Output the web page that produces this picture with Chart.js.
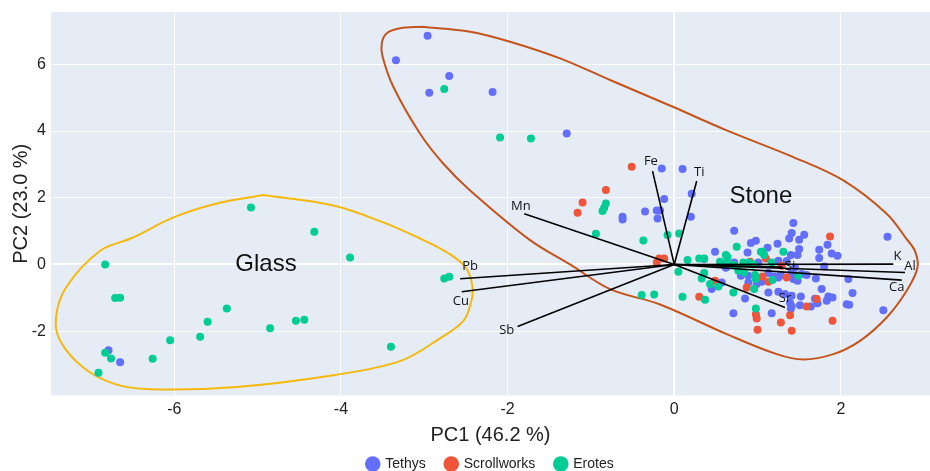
<!DOCTYPE html>
<html>
<head>
<meta charset="utf-8">
<script src="https://cdn.jsdelivr.net/npm/chart.js@4.4.0/dist/chart.umd.min.js"></script>
<style>
  html, body { margin: 0; padding: 0; background: #fff; }
  #wrap { width: 930px; height: 471px; position: relative; }
</style>
</head>
<body>
<div id="wrap"><canvas id="pcaChart"></canvas></div>
<script>
// PCA biplot: scores by group, loadings as vectors from the origin
const X_TICKS = [-6, -4, -2, 0, 2];
const Y_TICKS = [-2, 0, 2, 4, 6];
const X_TITLE = 'PC1 (46.2 %)';
const Y_TITLE = 'PC2 (23.0 %)';

const seriesNames = ['Tethys', 'Scrollworks', 'Erotes'];

const tethys = [
  [-2.96, 6.86], [-3.34, 6.12], [-2.70, 5.65], [-2.94, 5.15], [-2.18, 5.17], [-1.29, 3.93],
  [-0.15, 2.88], [0.10, 2.86], [0.21, 2.12], [-0.12, 1.96],
  [-0.62, 1.43], [-0.62, 1.35], [-0.35, 1.59], [-0.21, 1.62], [-0.17, 1.62], [-0.20, 1.38], [0.20, 1.43],
  [-6.79, -2.57], [-6.65, -2.93],
  [0.72, 1.01], [1.43, 1.24], [1.41, 0.94], [1.56, 0.89], [1.38, 0.78], [1.50, 0.74], [2.56, 0.83],
  [0.92, 0.64], [0.98, 0.71], [1.24, 0.62], [0.88, 0.36], [1.40, 0.28], [1.50, 0.46], [1.48, 0.28],
  [0.49, 0.38], [0.36, 0.16], [0.72, 0.06], [1.01, 0.06], [1.25, 0.11],
  [1.84, 0.59], [1.74, 0.44], [1.89, 0.33], [1.96, 0.26], [1.74, 0.19], [1.80, -0.06],
  [0.80, -0.34], [0.89, -0.34], [1.13, -0.26], [1.20, -0.36], [1.28, -0.32], [1.45, -0.34], [1.53, -0.29], [1.59, -0.32],
  [1.70, -0.42], [2.09, -0.44], [0.45, -0.74], [0.57, -0.54],
  [0.89, -0.54], [0.99, -0.59], [1.05, -0.52], [1.25, -0.39], [1.43, -0.44], [1.48, -0.49],
  [1.13, -0.84], [1.25, -0.82], [1.33, -0.89], [1.41, -0.94], [1.52, -0.96], [0.85, -1.02],
  [1.51, -1.22], [1.41, -1.25], [0.71, -1.46], [1.17, -1.46], [1.69, -1.03],
  [1.77, -0.74], [2.14, -0.86], [1.85, -0.96], [1.90, -0.99], [1.83, -1.09], [1.72, -1.16], [1.64, -1.26],
  [2.07, -1.19], [2.10, -1.21], [2.51, -1.37], [1.39, -1.15], [1.40, -1.33],
  [1.12, 0.50], [1.45, -0.10], [1.41, -0.24], [1.35, 0.10], [0.62, -0.10]
];

const scrollworks = [
  [-0.51, 2.93], [-0.82, 2.23], [-1.10, 1.86], [-1.16, 1.55], [1.87, 0.84],
  [-0.18, 0.18], [-0.12, 0.18], [-0.21, 0.06],
  [1.10, 0.18], [0.91, 0.08], [1.29, -0.04], [1.06, -0.36], [1.35, -0.39],
  [0.49, -0.49], [0.30, -0.97], [1.13, -0.52], [0.87, -0.69],
  [1.59, -1.26], [0.98, -1.49], [0.99, -1.62], [1.39, -1.52], [1.28, -1.74], [1.00, -1.96], [1.41, -1.99],
  [1.71, -1.04], [1.90, -1.69]
];

const erotes = [
  [-6.83, 0.00], [-6.71, -1.01], [-6.65, -1.00], [-5.37, -1.32], [-5.60, -1.72], [-5.69, -2.17],
  [-6.05, -2.27], [-6.26, -2.83], [-6.83, -2.65], [-6.76, -2.82], [-6.91, -3.25],
  [-4.85, -1.91], [-4.54, -1.69], [-4.44, -1.66], [-3.89, 0.21], [-3.40, -2.47],
  [-2.76, -0.42], [-2.70, -0.37], [-5.08, 1.71], [-4.32, 0.98],
  [-2.76, 5.26], [-2.09, 3.81], [-1.72, 3.78],
  [-0.82, 1.83], [-0.84, 1.70], [-0.86, 1.60], [-0.94, 0.92], [-0.37, 0.72], [-0.08, 0.88], [0.06, 0.93],
  [0.75, 0.53], [1.04, 0.38], [1.08, 0.28], [1.31, 0.38], [0.64, 0.22], [0.83, 0.06], [0.90, 0.06], [1.17, 0.06],
  [0.97, -0.32], [0.30, 0.18], [0.36, 0.18], [0.55, 0.08], [0.62, 0.28], [0.16, 0.13], [0.05, -0.22],
  [0.36, -0.26], [0.33, -0.42], [0.43, -0.59], [0.53, -0.66], [-0.39, -0.92], [-0.24, -0.90],
  [0.10, -0.97], [0.37, -1.06], [0.98, -0.44], [0.96, -0.74], [1.18, -0.47], [0.98, -1.32], [0.71, -0.84],
  [1.49, -0.34], [0.63, 0.06], [0.71, -0.01], [0.95, 0.00], [0.77, -0.19], [0.84, -0.24], [1.06, 0.38]
];

// loading vectors (end points, origin is 0,0)
const loadingNames = ['Fe', 'Ti', 'Mn', 'Pb', 'Cu', 'Sb', 'Sr', 'Si', 'K', 'Al', 'Ca'];
const loadingX = [-0.26, 0.27, -1.80, -2.57, -2.55, -1.88, 1.33, 1.30, 2.63, 2.77, 2.73];
const loadingY = [2.80, 2.50, 1.52, -0.43, -0.82, -1.86, -1.29, -0.08, 0.01, -0.24, -0.47];

// group outlines
const groupNames = ['Glass', 'Stone'];
const glassOutline = [
  [-4.93, 2.08], [-4.09, 1.77], [-3.49, 1.26], [-3.01, 0.73], [-2.72, 0.35], [-2.50, -0.10],
  [-2.42, -0.69], [-2.44, -1.15], [-2.53, -1.69], [-2.80, -2.20], [-3.29, -2.90], [-4.09, -3.32],
  [-5.29, -3.68], [-6.29, -3.74], [-6.72, -3.58], [-7.09, -3.10], [-7.37, -2.29], [-7.42, -1.59],
  [-7.30, -0.69], [-6.89, 0.41], [-6.50, 0.80], [-6.01, 1.41], [-5.50, 1.82], [-4.93, 2.08]
];
const stoneOutline = [
  [-3.03, 7.13], [-2.45, 6.98], [-1.97, 6.68], [-1.37, 6.18], [-0.77, 5.53], [-0.01, 4.72],
  [0.63, 4.02], [1.43, 3.22], [2.03, 2.52], [2.55, 1.52], [2.79, 0.76], [2.89, 0.40],
  [2.92, -0.09], [2.79, -0.79], [2.55, -1.59], [2.23, -2.29], [1.91, -2.69], [1.55, -2.85],
  [1.23, -2.69], [0.63, -2.09], [-0.17, -1.20], [-0.77, -0.74], [-1.25, 0.00], [-1.73, 0.73],
  [-2.45, 2.22], [-2.77, 3.02], [-3.05, 3.92], [-3.37, 5.32], [-3.50, 6.23], [-3.51, 6.63],
  [-3.45, 6.93], [-3.29, 7.08], [-3.03, 7.13]
];

const toPts = arr => arr.map(([x, y]) => ({ x, y }));

// where the text goes (data coords)
const loadingLabelAt = {
  Fe: [-0.28, 3.08], Ti: [0.30, 2.76], Mn: [-1.84, 1.74], Pb: [-2.45, -0.07],
  Cu: [-2.56, -1.12], Sb: [-2.01, -1.96], Sr: [1.33, -1.03], Si: [1.39, -0.07],
  K: [2.68, 0.23], Al: [2.83, -0.07], Ca: [2.67, -0.70]
};
const groupLabelAt = { Glass: [-4.90, 0.0], Stone: [1.04, 2.04] };

const plotBackground = {
  id: 'plotBackground',
  beforeDraw(chart) {
    const { ctx, chartArea: a } = chart;
    ctx.save();
    ctx.fillStyle = '#e5ecf6';
    ctx.fillRect(a.left, a.top, a.right - a.left, a.bottom - a.top);
    ctx.restore();
  }
};

const textLabels = {
  id: 'textLabels',
  afterDatasetsDraw(chart) {
    const { ctx, scales: { x, y } } = chart;
    ctx.save();
    ctx.fillStyle = '#111';
    ctx.textAlign = 'center';
    ctx.textBaseline = 'middle';
    ctx.font = '13px "Open Sans"';
    loadingNames.forEach(name => {
      const [lx, ly] = loadingLabelAt[name];
      ctx.fillText(name, x.getPixelForValue(lx), y.getPixelForValue(ly));
    });
    ctx.font = '24px "Liberation Sans"';
    groupNames.forEach(name => {
      const [gx, gy] = groupLabelAt[name];
      ctx.fillText(name, x.getPixelForValue(gx), y.getPixelForValue(gy));
    });
    ctx.restore();
  }
};

const colors = ['#636efa', '#ef553b', '#00cc96'];
const scoreSets = [tethys, scrollworks, erotes];

const datasets = scoreSets.map((data, i) => ({
  label: seriesNames[i],
  data: toPts(data),
  backgroundColor: colors[i],
  borderColor: colors[i],
  borderWidth: 0,
  pointRadius: 4,
  pointHoverRadius: 4,
  order: 3 - i
}));

loadingNames.forEach((name, i) => {
  datasets.push({
    label: name,
    data: [{ x: 0, y: 0 }, { x: loadingX[i], y: loadingY[i] }],
    showLine: true,
    borderColor: '#000',
    borderWidth: 1.6,
    pointRadius: 0,
    order: -1
  });
});

[glassOutline, stoneOutline].forEach((outline, i) => {
  datasets.push({
    label: groupNames[i],
    data: toPts(outline),
    showLine: true,
    tension: 0.35,
    borderColor: i === 0 ? '#f5b80c' : '#c4541b',
    borderWidth: 2,
    pointRadius: 0,
    order: 10
  });
});

const axisFont = { family: '"Liberation Sans", Arial, sans-serif', size: 16 };
const gridOpts = {
  color: '#ffffff',
  lineWidth: c => (c.tick && c.tick.value === 0 ? 2 : 1),
  drawTicks: false
};

new Chart(document.getElementById('pcaChart'), {
  type: 'scatter',
  data: { datasets },
  options: {
    responsive: true,
    maintainAspectRatio: false,
    animation: false,
    layout: { autoPadding: false, padding: { top: 12, left: 0, right: 0, bottom: -10 } },
    plugins: {
      tooltip: { enabled: false },
      legend: {
        position: 'bottom',
        fullSize: false,
        labels: {
          filter: item => item.datasetIndex < 3,
          sort: (a, b) => a.datasetIndex - b.datasetIndex,
          usePointStyle: true,
          pointStyle: 'circle',
          boxWidth: 11,
          boxHeight: 11,
          padding: 20,
          color: '#222',
          font: { family: '"Liberation Sans", Arial, sans-serif', size: 14 }
        }
      }
    },
    scales: {
      x: {
        type: 'linear',
        min: -7.48,
        max: 3.07,
        afterBuildTicks: s => { s.ticks = X_TICKS.map(v => ({ value: v })); },
        afterFit: s => { s.height = 41.5; s.paddingLeft = 0; s.paddingRight = 0; },
        grid: gridOpts,
        border: { display: false },
        ticks: { padding: 4, color: '#222', font: axisFont },
        title: {
          display: true, text: X_TITLE, color: '#222',
          font: { family: '"Liberation Sans", Arial, sans-serif', size: 20 },
          padding: { top: 0, bottom: -10 }
        }
      },
      y: {
        type: 'linear',
        min: -3.93,
        max: 7.57,
        afterBuildTicks: s => { s.ticks = Y_TICKS.map(v => ({ value: v })); },
        afterFit: s => { s.width = 51; s.paddingTop = 0; s.paddingBottom = 0; },
        grid: gridOpts,
        border: { display: false },
        ticks: { padding: 5, color: '#222', font: axisFont },
        title: {
          display: true, text: Y_TITLE, color: '#222',
          font: { family: '"Liberation Sans", Arial, sans-serif', size: 20 },
          padding: { top: 9, bottom: 0 }
        }
      }
    }
  },
  plugins: [plotBackground, textLabels]
});
</script>
</body>
</html>
